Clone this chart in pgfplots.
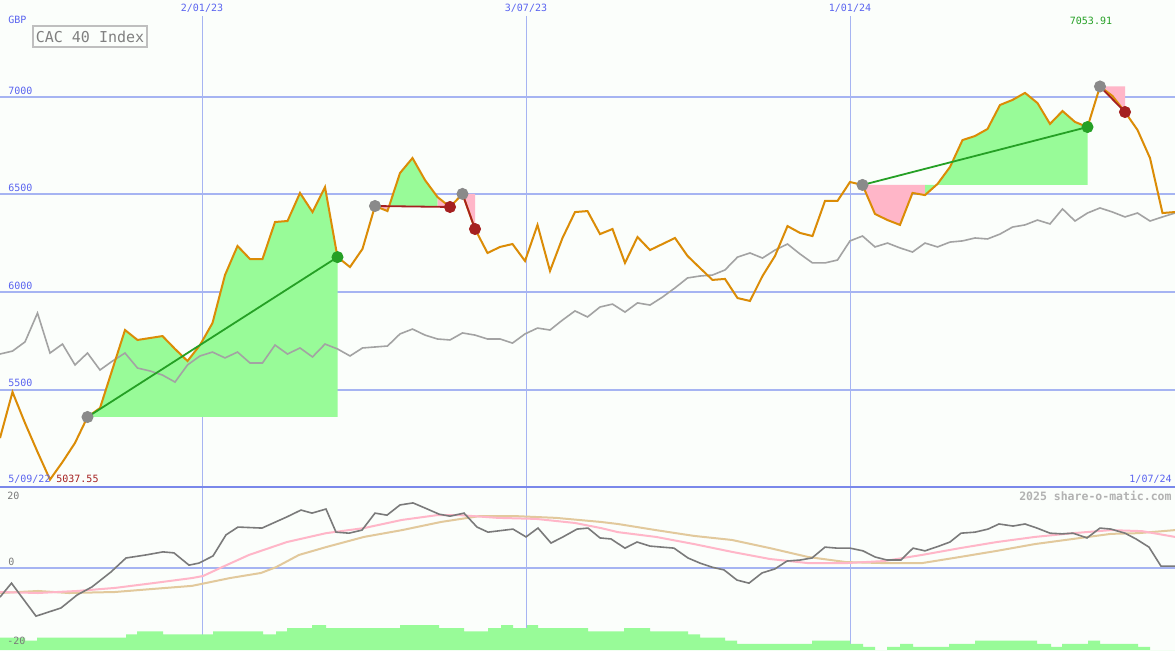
\documentclass[border=0pt]{standalone}
\usepackage{pgfplots}
\pgfplotsset{compat=1.18}
\usepackage{pgfplotstable}
\usepackage{fontspec}
\newfontfamily\pix{DejaVu Sans Mono}

\definecolor{bg}{HTML}{FBFEFB}
\definecolor{gridblue}{HTML}{A6B4F2}
\definecolor{sepblue}{HTML}{7A88EA}
\definecolor{lblue}{HTML}{5A64F0}
\definecolor{price}{HTML}{DB8C06}
\definecolor{cmp}{HTML}{A3A3A3}
\definecolor{mom}{HTML}{7A7A7A}
\definecolor{pinkfill}{HTML}{FFB6C8}
\definecolor{pinkline}{HTML}{FFB6C8}
\definecolor{tan}{HTML}{E2C99C}
\definecolor{palegreen}{HTML}{98FB98}
\definecolor{tgreen}{HTML}{25A025}
\definecolor{dred}{HTML}{A52020}
\definecolor{mgrey}{HTML}{8A8A8A}

\newcommand\tl{\pix\fontsize{5}{6}\selectfont}

% weekly closes, x = week number from 5/09/22
\pgfplotstableread{
w v
0 5251
1 5487
2 5328
3 5180
4 5038
5 5128
6 5226
7 5359
8 5405
9 5605
10 5805
11 5754
12 5764
13 5774
14 5708
15 5646
16 5728
17 5841
18 6087
19 6236
20 6169
21 6169
22 6359
23 6364
24 6508
25 6410
26 6538
27 6179
28 6128
29 6221
30 6441
31 6415
32 6610
33 6687
34 6574
35 6487
36 6436
37 6503
38 6323
39 6200
40 6231
41 6246
42 6159
43 6344
44 6108
45 6277
46 6410
47 6415
48 6297
49 6323
50 6149
51 6282
52 6215
53 6246
54 6277
55 6185
56 6123
57 6062
58 6067
59 5969
60 5954
61 6082
62 6185
63 6338
64 6303
65 6287
66 6467
67 6467
68 6564
69 6549
70 6400
71 6369
72 6344
73 6508
74 6497
75 6554
76 6641
77 6779
78 6800
79 6836
80 6959
81 6985
82 7021
83 6969
84 6862
85 6928
86 6872
87 6846
88 7054
89 7005
90 6923
91 6831
92 6687
93 6405
94 6410
}\price

% comparison index (rebased)
\pgfplotstableread{
w v
0 5682
1 5697
2 5744
3 5892
4 5687
5 5733
6 5626
7 5687
8 5600
9 5646
10 5687
11 5610
12 5595
13 5574
14 5538
15 5626
16 5672
17 5692
18 5662
19 5692
20 5636
21 5636
22 5728
23 5682
24 5713
25 5667
26 5733
27 5708
28 5672
29 5713
30 5718
31 5723
32 5785
33 5810
34 5779
35 5759
36 5754
37 5790
38 5779
39 5759
40 5759
41 5738
42 5785
43 5815
44 5805
45 5856
46 5903
47 5872
48 5923
49 5938
50 5897
51 5944
52 5933
53 5974
54 6021
55 6072
56 6082
57 6087
58 6113
59 6179
60 6200
61 6174
62 6215
63 6246
64 6195
65 6149
66 6149
67 6164
68 6262
69 6287
70 6231
71 6251
72 6226
73 6205
74 6251
75 6231
76 6256
77 6262
78 6277
79 6272
80 6297
81 6333
82 6344
83 6369
84 6349
85 6426
86 6364
87 6405
88 6431
89 6410
90 6385
91 6405
92 6364
93 6385
94 6405
}\compare

\pgfplotstableread{
w v
0 -8.7
0.92 -4.6
2.88 -14.3
4.88 -11.9
6.16 -8.1
7.36 -5.7
8.88 -1.3
10.08 2.8
11.68 3.7
13.04 4.6
13.92 4.3
15.12 0.7
15.92 1.3
17.04 3.4
18.08 9.6
19.04 11.9
20.96 11.6
22.96 14.9
24.08 16.9
24.96 16.0
26.08 17.2
26.88 10.4
27.92 10.1
28.96 11.0
30.0 16.0
30.96 15.4
32.0 18.4
33.04 19.0
34.0 17.5
35.12 15.7
36.0 15.1
37.12 16.0
38.16 11.9
39.04 10.4
41.04 11.3
42.08 9.0
43.04 11.6
44.08 7.2
45.04 9.0
46.16 11.3
47.04 11.6
48.0 8.7
48.88 8.4
50.0 5.7
50.96 7.5
52.0 6.3
52.96 6.0
53.92 5.7
55.04 2.8
56.0 1.3
56.96 0.1
57.92 -0.7
58.96 -3.7
59.92 -4.6
60.96 -1.6
62.0 -0.4
62.96 1.9
64.0 2.2
64.96 2.8
66.0 6.0
66.96 5.7
68.0 5.7
69.04 4.9
70.0 3.1
70.96 2.2
72.08 2.2
73.04 5.7
74.0 4.9
75.12 6.3
76.0 7.5
76.88 10.1
78.0 10.4
79.04 11.3
79.92 12.8
81.04 12.2
82.0 12.8
82.96 11.6
84.0 10.1
84.96 9.9
85.84 10.1
86.96 8.7
88.0 11.6
88.88 11.3
90.0 10.1
90.88 8.4
91.92 6.0
92.88 0.4
94.0 0.4
}\momentum

\pgfplotstableread{
w v
0 -7.2
3.04 -7.5
6.16 -6.9
9.2 -6.0
12.24 -4.6
15.36 -3.1
16.24 -2.5
17.76 0.1
19.92 3.7
22.96 7.5
26.08 10.1
29.12 11.6
32.16 14.0
34.96 15.4
36.8 15.4
39.84 14.6
42.88 14.3
46.0 13.1
48.08 11.6
49.44 10.4
52.48 9.0
55.52 6.9
58.56 4.6
61.6 2.5
64.64 1.3
67.68 1.3
70.72 1.9
73.76 3.7
76.8 5.7
79.76 7.5
82.8 9.0
85.84 10.1
88.88 11.0
91.36 10.7
94 9.0
}\fastma

\pgfplotstableread{
w v
0 -7.5
3.04 -6.9
5.52 -7.5
9.2 -7.2
12.24 -6.3
15.36 -5.4
18.4 -3.1
20.88 -1.6
22.08 0.1
23.92 3.7
26.08 6.0
29.12 9.0
32.16 11.0
35.28 13.4
38.32 15.1
41.36 15.1
44.48 14.6
48.08 13.4
49.44 12.8
52.48 11.0
55.52 9.3
58.56 8.1
61.6 5.7
64.64 3.1
67.68 1.6
70.72 1.3
73.76 1.3
76.8 3.1
79.76 4.9
82.8 6.9
85.84 8.4
88.88 9.9
91.04 10.1
94 11.0
}\slowma

\begin{document}
\begin{tikzpicture}
\path[use as bounding box, fill=bg] (0,0) rectangle (587.5pt,325pt);

% ---- price panel
\begin{axis}[
  at={(0pt,81.5pt)}, anchor=south west,
  scale only axis, width=587.5pt, height=243.5pt,
  xmin=0, xmax=94, ymin=5000, ymax=7497.4,
  axis line style={draw=none},
  major tick length=0pt,
  xtick={16.16,42.08,68},
  xticklabels={2/01/23,3/07/23,1/01/24},
  xticklabel pos=upper,
  xticklabel style={anchor=north, fill=bg, inner sep=0pt, minimum height=8pt, text=lblue, font=\tl},
  ytick={5500,6000,6500,7000},
  yticklabel style={anchor=south west, inner sep=1pt, xshift=3pt, text=lblue, font=\tl},
  xmajorgrids, ymajorgrids,
  x grid style={gridblue, line width=0.5pt},
  y grid style={gridblue, line width=1pt},
  /pgf/number format/1000 sep={},
  /pgf/number format/assume math mode=true,
]
% trade areas: price against the entry level
\addplot[fill=palegreen, draw=none] coordinates {(7,5359) (8,5405) (9,5605) (10,5805) (11,5754) (12,5764) (13,5774) (14,5708) (15,5646) (16,5728) (17,5841) (18,6087) (19,6236) (20,6169) (21,6169) (22,6359) (23,6364) (24,6508) (25,6410) (26,6538) (27,6179) (27,5359)};
\addplot[fill=pinkfill, draw=none] coordinates {(30,6441) (31,6415) (31,6441)};
\addplot[fill=palegreen, draw=none] coordinates {(31,6441) (31,6415) (32,6610) (33,6687) (34,6574) (35,6487) (35,6441)};
\addplot[fill=pinkfill, draw=none] coordinates {(35,6441) (35,6487) (36,6436) (36,6441)};
\addplot[fill=pinkfill, draw=none] coordinates {(37,6503) (38,6323) (38,6503)};
\addplot[fill=pinkfill, draw=none] coordinates {(69,6549) (70,6400) (71,6369) (72,6344) (73,6508) (74,6497) (74,6549)};
\addplot[fill=palegreen, draw=none] coordinates {(74,6549) (74,6497) (75,6554) (76,6641) (77,6779) (78,6800) (79,6836) (80,6959) (81,6985) (82,7021) (83,6969) (84,6862) (85,6928) (86,6872) (87,6846) (87,6549)};
\addplot[fill=pinkfill, draw=none] coordinates {(88,7054) (89,7005) (90,6923) (90,7054)};

\addplot[cmp, line width=0.8pt] table[x=w, y=v] {\compare};
\addplot[price, line width=1pt] table[x=w, y=v] {\price};

\addplot[tgreen, line width=0.9pt] coordinates {(7,5359) (27,6179)};
\addplot[tgreen, line width=0.9pt] coordinates {(69,6549) (87,6846)};
\addplot[dred, line width=0.9pt] coordinates {(30,6441) (36,6436)};
\addplot[dred, line width=0.9pt] coordinates {(37,6503) (38,6323)};
\addplot[dred, line width=0.9pt] coordinates {(88,7054) (90,6923)};

\addplot[only marks, mark=*, mark size=2.8pt, mgrey] coordinates {(7,5359) (30,6441) (37,6503) (69,6549) (88,7054)};
\addplot[only marks, mark=*, mark size=2.8pt, tgreen] coordinates {(27,6179) (87,6846)};
\addplot[only marks, mark=*, mark size=2.8pt, dred] coordinates {(36,6436) (38,6323) (90,6923)};
\end{axis}

% ---- indicator panel
\begin{axis}[
  at={(0pt,0pt)}, anchor=south west,
  scale only axis, width=587.5pt, height=81.5pt,
  xmin=0, xmax=94, ymin=-24.26, ymax=23.68,
  axis line style={draw=none},
  major tick length=0pt,
  xtick={16.16,42.08,68}, xticklabels={},
  ytick={0}, yticklabels={},
  xmajorgrids, ymajorgrids,
  x grid style={gridblue, line width=0.5pt},
  y grid style={gridblue, line width=1pt},
]
\addplot[tan, line width=1pt] table[x=w, y=v] {\slowma};
\addplot[pinkline, line width=1pt] table[x=w, y=v] {\fastma};
\addplot[mom, line width=0.8pt] table[x=w, y=v] {\momentum};
\end{axis}

% ---- bars along the bottom
\begin{axis}[
  at={(0pt,0pt)}, anchor=south west,
  scale only axis, width=587.5pt, height=81.5pt,
  xmin=0, xmax=94, ymin=0, ymax=52.16,
  hide axis,
]
\addplot[const plot, fill=palegreen, draw=none] coordinates {
(0,4) (2,3) (2.96,4) (10.08,5) (10.96,6) (13.04,5) (17.04,6) (21.04,5)
(22.08,6) (22.96,7) (24.96,8) (26.08,7) (32,8) (35.12,7) (37.12,6)
(39.04,7) (40.08,8) (41.04,7) (42.16,8) (43.04,7) (47.04,6) (49.92,7)
(52,6) (55.04,5) (56,4) (58,3) (58.96,2) (64.96,3) (68,2) (69.04,1)
(70,0) (70.96,1) (72,2) (73.04,1) (75.92,2) (78,3) (82.96,2) (84.08,1)
(84.96,2) (87.04,3) (88,2) (91.04,1) (92,0) (94,0)} \closedcycle;
\end{axis}

\draw[sepblue, line width=1.2pt] (0,81.5pt) -- (587.5pt,81.5pt);

% ---- texts
\node[text=lblue, font=\tl, anchor=west, inner sep=0pt] at (4pt,315pt) {GBP};
\node[draw=black!25, line width=1pt, text=black!50, font=\pix\fontsize{7.5}{9}\selectfont,
      minimum width=57pt, minimum height=10.5pt, inner sep=0.5pt] at (45pt,306.75pt) {CAC 40 Index};
\node[text=tgreen, font=\tl, inner sep=0pt] at (545.5pt,314.5pt) {7053.91};
\node[text=lblue, font=\tl, anchor=west, inner sep=0pt] at (4pt,85.5pt) {5/09/22};
\node[text=dred, font=\tl, anchor=west, inner sep=0pt] at (28pt,85.5pt) {5037.55};
\node[text=lblue, font=\tl, anchor=east, inner sep=0pt] at (586pt,85.5pt) {1/07/24};
\node[text=black!30, font=\bfseries\pix\fontsize{5.75}{7}\selectfont, anchor=east, inner sep=0pt] at (586pt,77pt) {2025 share-o-matic.com};
\node[text=mom, font=\tl, anchor=west, inner sep=0pt] at (3.5pt,77pt) {20};
\node[text=mom, font=\tl, anchor=west, inner sep=0pt] at (4pt,44pt) {0};
\node[text=mom, font=\tl, anchor=west, inner sep=0pt] at (3.5pt,4.5pt) {-20};
\end{tikzpicture}
\end{document}
